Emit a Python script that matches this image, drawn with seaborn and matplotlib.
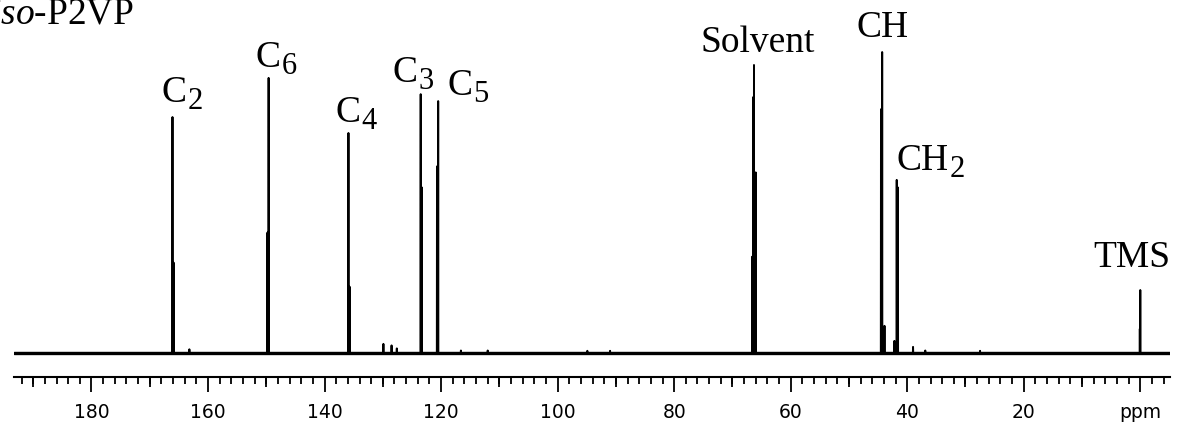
import matplotlib

matplotlib.use("Agg")
import matplotlib.pyplot as plt
import numpy as np
import pandas as pd
import seaborn as sns

# main resonances: chemical shift (ppm) and peak height (CH = 100)
peak_names = ["C", "C", "C", "C", "C", "Solvent", "CH", "CH", "TMS"]
peak_subs = ["2", "6", "4", "3", "5", "", "", "2", ""]
peak_ppm = [166.1, 149.6, 135.9, 123.5, 120.5, 66.3, 44.3, 41.8, 0.0]
peak_height = [78.4, 91.4, 73.1, 86.0, 83.7, 95.7, 100.0, 57.5, 20.9]

# neighbouring lines / shoulders, impurity lines and baseline blips
minor_ppm = [165.9, 149.8, 135.7, 123.3, 120.7, 66.6, 66.0, 66.45, 44.5, 43.9, 41.6, 42.2, 0.08,
             163.2, 129.9, 128.5, 127.6, 39.0, 116.6, 112.0, 94.9, 91.0, 36.9, 27.5]
minor_height = [30, 40, 22, 55, 62, 32, 60, 85, 81, 9, 55, 4, 8,
                1.2, 3.0, 2.5, 1.5, 2.0, 0.8, 0.8, 0.7, 0.7, 0.8, 0.7]

ppm_range = [193.3, -5.1]
major_ticks = [180, 160, 140, 120, 100, 80, 60, 40, 20, 0]
major_labels = ["180", "160", "140", "120", "100", "80", "60", "40", "20", "ppm"]

# label placement relative to the peak tip (pixels) and alignment
label_offsets = [(-11, 15), (-13, 11), (-13, 11), (-28, 12), (9, 6), (4, 13), (0, 15), (0, 10), (-8, 23)]
label_ha = ["left", "left", "left", "left", "left", "center", "center", "left", "center"]


def stick_trace(ppm, height, half_width=0.03):
    rows = [(ppm_range[0], 0.0), (ppm_range[1], 0.0)]
    for p, h in zip(ppm, height):
        rows += [(p + half_width, 0.0), (p, h), (p - half_width, 0.0)]
    return pd.DataFrame(rows, columns=["ppm", "intensity"])


def main():
    sns.set_style("ticks")
    plt.rcParams["font.family"] = ["DejaVu Sans"]
    plt.rcParams["text.color"] = "black"
    plt.rcParams["mathtext.fontset"] = "custom"
    plt.rcParams["mathtext.rm"] = "Liberation Serif"
    plt.rcParams["mathtext.it"] = "Liberation Serif:italic"

    trace = stick_trace(peak_ppm + minor_ppm, peak_height + minor_height)

    fig = plt.figure(figsize=(11.8, 4.24), dpi=100)
    ax = fig.add_axes([14 / 1180, 47 / 424, 1156 / 1180, 377 / 424])
    sns.lineplot(data=trace, x="ppm", y="intensity", ax=ax, color="black", lw=1.4, estimator=None)
    ax.axhline(0, color="black", lw=2.4, zorder=1)

    ax.set_xlim(ppm_range)
    ax.set_ylim(-8.0, 117.3)
    ax.set_xlabel("")
    ax.set_ylabel("")
    ax.set_yticks([])
    for side in ["top", "left", "right"]:
        ax.spines[side].set_visible(False)
    ax.spines["bottom"].set_linewidth(1.5)
    ax.spines["bottom"].set_color("black")

    ax.set_xticks(major_ticks)
    ax.set_xticklabels(major_labels, fontsize=13.5, color="black")
    ax.set_xticks(np.arange(-4, 193, 2), minor=True)
    ax.tick_params(axis="x", which="major", length=11, width=1.3, color="black", pad=8, direction="out")
    ax.tick_params(axis="x", which="minor", length=5, width=1.3, color="black", direction="out")

    mid = ax.secondary_xaxis("bottom")
    mid.set_xticks([190, 170, 150, 130, 110, 90, 70, 50, 30, 10])
    mid.set_xticklabels([])
    mid.tick_params(axis="x", length=7.5, width=1.3, color="black")
    mid.spines["bottom"].set_visible(False)

    fig.canvas.draw()
    for name, sub, p, h, off, ha in zip(peak_names, peak_subs, peak_ppm, peak_height, label_offsets, label_ha):
        if sub and ha == "center":
            ha = "left"
        main_txt = ax.annotate(name, xy=(p, h), xytext=off, textcoords="offset pixels",
                               ha=ha, va="baseline", fontsize=27, family="Liberation Serif")
        if sub:
            ax.annotate(sub, xy=(1, 0), xycoords=main_txt, xytext=(1, 1), textcoords="offset pixels",
                        ha="left", va="baseline", fontsize=22, family="Liberation Serif")

    fig.text(-10 / 1180, 1 - 23 / 424, r"$\mathit{iso}$-P2VP", ha="left", va="baseline",
             fontsize=27, family="Liberation Serif")

    fig.savefig("out.png", dpi=100)
    plt.close(fig)


if __name__ == "__main__":
    main()
